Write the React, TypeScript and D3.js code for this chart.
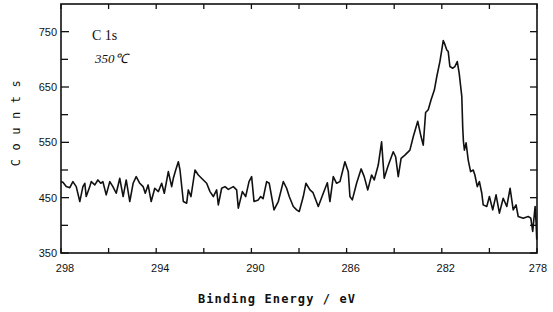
import React from "react";
import { scaleLinear, line as d3_line, range } from "d3";

// C 1s spectrum, 350 °C (binding energy in eV, counts)
const energy = [
    298.0, 297.92, 297.78, 297.63, 297.5, 297.36, 297.21, 297.08, 297.0, 296.94,
    296.79, 296.73, 296.58, 296.45, 296.33, 296.24, 296.1, 295.95, 295.82, 295.68,
    295.53, 295.39, 295.26, 295.11, 294.97, 294.84, 294.69, 294.55, 294.46, 294.34,
    294.21, 294.06, 293.91, 293.77, 293.66, 293.49, 293.35, 293.28, 293.18, 293.07,
    293.0, 292.86, 292.72, 292.65, 292.54, 292.37, 292.23, 292.02, 291.88, 291.74,
    291.6, 291.46, 291.39, 291.25, 291.11, 290.97, 290.76, 290.62, 290.55, 290.38,
    290.24, 290.1, 289.99, 289.89, 289.71, 289.61, 289.51, 289.36, 289.25, 289.05,
    288.87, 288.66, 288.52, 288.41, 288.24, 288.1, 287.99, 287.82, 287.71, 287.54,
    287.41, 287.19, 286.98, 286.81, 286.7, 286.56, 286.42, 286.28, 286.07, 285.93,
    285.86, 285.76, 285.58, 285.39, 285.26, 285.11, 284.95, 284.84, 284.67, 284.53,
    284.42, 284.27, 284.04, 283.94, 283.83, 283.71, 283.55, 283.34, 283.2, 283.01,
    282.87, 282.78, 282.68, 282.57, 282.45, 282.31, 282.21, 282.08, 282.0, 281.94,
    281.87, 281.79, 281.73, 281.66, 281.54, 281.45, 281.35, 281.27, 281.16, 281.12,
    281.09, 281.05, 280.98, 280.89, 280.79, 280.68, 280.61, 280.51, 280.42, 280.32,
    280.26, 280.11, 280.0, 279.86, 279.72, 279.58, 279.42, 279.27, 279.13, 279.0,
    278.88, 278.79, 278.58, 278.37, 278.26, 278.18, 278.08, 278.04, 278.01,
];

const counts = [
    479, 478, 470, 468, 479, 470, 443, 470, 476, 452,
    470, 479, 473, 482, 476, 479, 455, 479, 470, 458,
    485, 452, 482, 443, 476, 488, 476, 470, 458, 473,
    443, 467, 461, 476, 458, 497, 470, 485, 500, 515,
    500, 443, 440, 464, 452, 500, 491, 482, 476, 461,
    452, 464, 437, 467, 470, 465, 470, 464, 431, 461,
    452, 479, 488, 443, 446, 452, 448, 479, 476, 428,
    443, 479, 467, 452, 434, 428, 425, 452, 476, 464,
    459, 434, 458, 477, 443, 488, 476, 479, 515, 497,
    452, 446, 476, 502, 488, 464, 491, 482, 509, 551,
    485, 506, 533, 524, 488, 521, 527, 536, 560, 588,
    560, 545, 604, 609, 627, 645, 669, 696, 717, 734,
    727, 717, 714, 687, 684, 687, 696, 675, 633, 576,
    551, 536, 549, 518, 497, 500, 491, 470, 479, 458,
    437, 434, 452, 428, 455, 422, 449, 434, 467, 428,
    437, 416, 413, 416, 413, 389, 434, 406, 374,
];

const xTicks = [298, 294, 290, 286, 282, 278];
const xMinorTicks = [296, 292, 288, 284, 280];
const yTicks = [350, 450, 550, 650, 750];
const yMinorTicks = [400, 500, 600, 700];

const width = 553;
const height = 312;
const left = 61;
const right = 537;
const top = 4;
const bottom = 253;

export default function App() {
    const xScale = scaleLinear().domain([298, 278]).range([left, right]);
    const yScale = scaleLinear().domain([350, 800]).range([bottom, top]);

    const points = range(energy.length).map((i) => ({ e: energy[i], c: counts[i] }));

    const line = d3_line<(typeof points)[number]>()
        .x((d) => xScale(d.e))
        .y((d) => yScale(d.c));

    const d = line(points) ?? "";

    return (
        <svg
            width={width}
            height={height}
            style={{ position: "absolute", left: 0, top: 0, background: "#fff" }}
            fontFamily="'Liberation Sans', sans-serif"
        >
            {/* Frame */}
            <rect
                x={left}
                y={top}
                width={right - left}
                height={bottom - top}
                fill="none"
                stroke="#111"
                strokeWidth={1.6}
            />

            {/* X ticks, bottom and top */}
            {[...xTicks, ...xMinorTicks].map((t, i) => (
                <g key={i} stroke="#111" strokeWidth={1.3}>
                    <line x1={xScale(t)} x2={xScale(t)} y1={bottom} y2={bottom - 5} />
                    <line x1={xScale(t)} x2={xScale(t)} y1={top} y2={top + 5} />
                </g>
            ))}
            {xTicks.map((t, i) => (
                <text
                    key={i}
                    x={xScale(t) + (i === xTicks.length - 1 ? 1 : 4)}
                    y={272}
                    textAnchor="middle"
                    fontSize={11}
                    fill="#111"
                >
                    {t}
                </text>
            ))}

            {/* Y ticks, left and right */}
            {yTicks.map((t, i) => (
                <g key={i} stroke="#111" strokeWidth={1.3}>
                    <line x1={left} x2={left + 8} y1={yScale(t)} y2={yScale(t)} />
                    <line x1={right} x2={right - 7} y1={yScale(t)} y2={yScale(t)} />
                </g>
            ))}
            {yMinorTicks.map((t, i) => (
                <g key={i} stroke="#111" strokeWidth={1.3}>
                    <line x1={left} x2={left + 7} y1={yScale(t)} y2={yScale(t)} />
                    <line x1={right} x2={right - 7} y1={yScale(t)} y2={yScale(t)} />
                </g>
            ))}
            {yTicks.map((t, i) => (
                <text
                    key={i}
                    x={57}
                    y={yScale(t)}
                    dy="0.35em"
                    textAnchor="end"
                    fontSize={11}
                    fill="#111"
                >
                    {t}
                </text>
            ))}

            {/* Spectrum */}
            <path d={d} fill="none" stroke="#111" strokeWidth={1.6} strokeLinejoin="round" />

            {/* Annotations */}
            <text x={92} y={40} fontSize={14} fontFamily="'Liberation Serif', serif" fill="#111">
                C  1s
            </text>
            <text
                x={95}
                y={63}
                fontSize={13}
                fontStyle="italic"
                fontFamily="'Liberation Serif', serif"
                fill="#111"
            >
                350℃
            </text>

            {/* Axis titles */}
            <text
                transform="translate(20,119) rotate(-90)"
                textAnchor="middle"
                fontSize={12}
                letterSpacing={8.5}
                fontFamily="'DejaVu Sans Mono', monospace"
                fill="#111"
            >
                Counts
            </text>
            <text
                x={277}
                y={303}
                textAnchor="middle"
                fontSize={12}
                fontWeight="bold"
                letterSpacing={1.1}
                fontFamily="'DejaVu Sans Mono', monospace"
                fill="#111"
            >
                Binding Energy / eV
            </text>
        </svg>
    );
}
